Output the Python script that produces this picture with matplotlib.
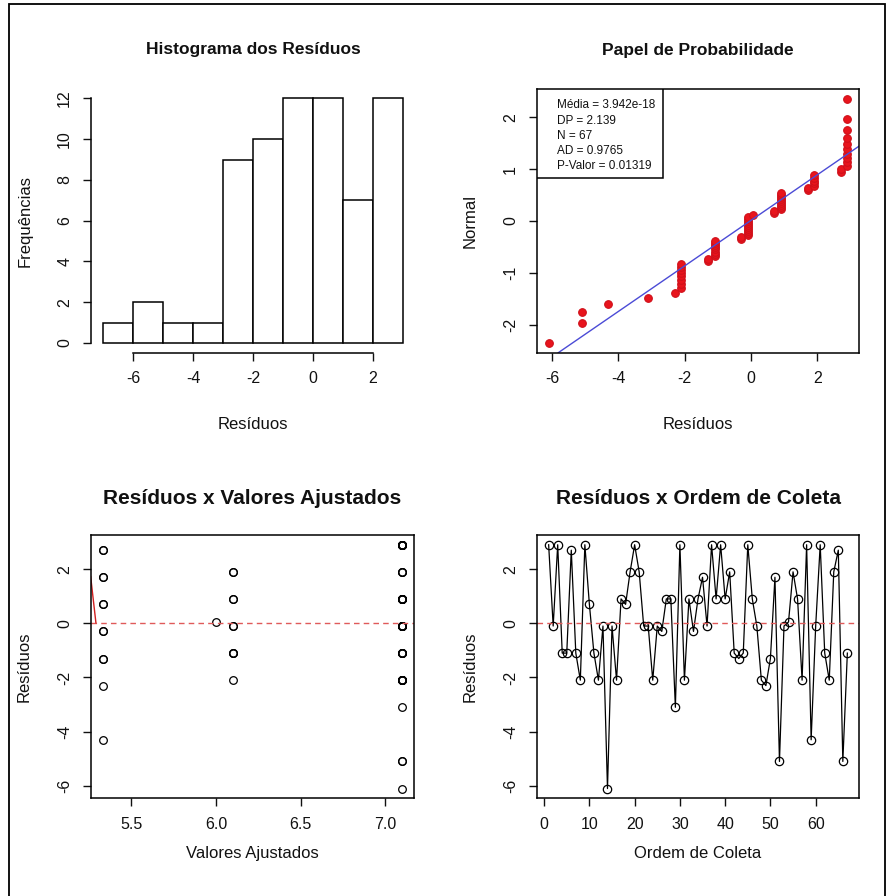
import matplotlib
matplotlib.use("Agg")
import matplotlib.pyplot as plt
from matplotlib import font_manager
from matplotlib.patches import Rectangle
from matplotlib.ticker import FormatStrFormatter
from statistics import NormalDist

# residuos na ordem de coleta
residuos = [2.9, -0.1, 2.9, -1.1, -1.1, 2.7, -1.1, -2.1, 2.9, 0.7,
            -1.1, -2.1, -0.1, -6.1, -0.1, -2.1, 0.9, 0.7, 1.9, 2.9,
            1.9, -0.1, -0.1, -2.1, -0.1, -0.3, 0.9, 0.9, -3.1, 2.9,
            -2.1, 0.9, -0.3, 0.9, 1.7, -0.1, 2.9, 0.9, 2.9, 0.9,
            1.9, -1.1, -1.3, -1.1, 2.9, 0.9, -0.1, -2.1, -2.3, -1.3,
            1.7, -5.1, -0.1, 0.05, 1.9, 0.9, -2.1, 2.9, -4.3, -0.1,
            2.9, -1.1, -2.1, 1.9, 2.7, -5.1, -1.1]

# valores ajustados de cada observacao
ajustados = [7.1, 6.1, 7.1, 6.1, 7.1, 5.33, 6.1, 7.1, 7.1, 5.33,
             7.1, 6.1, 7.1, 7.1, 7.1, 7.1, 6.1, 5.33, 6.1, 7.1,
             7.1, 6.1, 7.1, 7.1, 7.1, 5.33, 7.1, 7.1, 7.1, 7.1,
             7.1, 7.1, 5.33, 7.1, 5.33, 7.1, 7.1, 6.1, 7.1, 7.1,
             6.1, 7.1, 5.33, 6.1, 7.1, 7.1, 7.1, 7.1, 5.33, 5.33,
             5.33, 7.1, 7.1, 6.0, 7.1, 7.1, 7.1, 7.1, 5.33, 7.1,
             7.1, 7.1, 7.1, 7.1, 5.33, 7.1, 7.1]

ordem = list(range(1, len(residuos) + 1))

bins_hist = [-7, -6, -5, -4, -3, -2, -1, 0, 1, 2, 3]

# reta ajustada do papel de probabilidade
reta_intercepto = 0.014
reta_inclinacao = 0.44

# pequeno trecho da curva suavizada (vermelho) no grafico de ajustados
suave_x = [5.259, 5.29]
suave_y = [1.72, 0.02]

estatisticas = ["Média = 3.942e-18", "DP = 2.139", "N = 67",
                "AD = 0.9765", "P-Valor = 0.01319"]

names = {f.name for f in font_manager.fontManager.ttflist}
narrow = "Liberation Sans Narrow" in names

plt.rcParams["font.family"] = ["Liberation Sans", "DejaVu Sans"]
plt.rcParams["axes.unicode_minus"] = False
plt.rcParams["text.color"] = "#111111"
plt.rcParams["axes.labelcolor"] = "#111111"
plt.rcParams["xtick.color"] = "#111111"
plt.rcParams["ytick.color"] = "#111111"

W, H = 887, 896
fig = plt.figure(figsize=(W / 100, H / 100), dpi=100)


def px_axes(l, t, r, b):
    return fig.add_axes([l / W, 1 - b / H, (r - l) / W, (b - t) / H])


def estilo(ax, top_row):
    ax.tick_params(axis="both", direction="out", length=5.5, width=1.0,
                   pad=8, labelsize=11.5)
    ax.tick_params(axis="y", labelrotation=90)
    for lab in ax.get_yticklabels():
        lab.set_va("center")
    for s in ax.spines.values():
        s.set_linewidth(1.1)
    ax.xaxis.labelpad = 22 if top_row else 10
    ax.yaxis.labelpad = 18


def titulo(ax, texto, top_row):
    if top_row:
        if narrow:
            ax.set_title(texto, family="Liberation Sans Narrow",
                         fontweight="bold", fontsize=15, pad=25)
        else:
            ax.set_title(texto, fontweight="bold", fontsize=12.5, pad=25)
    else:
        ax.set_title(texto, fontweight="bold", fontsize=15, pad=22)


# --- Histograma ---
ax1 = px_axes(91, 88.6, 415, 352.7)
ax1.hist(residuos, bins=bins_hist, facecolor="white", edgecolor="black",
         linewidth=1.1)
ax1.set_xlim(-7.4, 3.4)
ax1.set_ylim(-0.48, 12.48)
ax1.set_xticks([-6, -4, -2, 0, 2])
ax1.set_yticks([0, 2, 4, 6, 8, 10, 12])
ax1.spines["top"].set_visible(False)
ax1.spines["right"].set_visible(False)
ax1.spines["left"].set_bounds(0, 12)
ax1.spines["bottom"].set_bounds(-6, 2)
ax1.set_xlabel("Resíduos", fontsize=12)
ax1.set_ylabel("Frequências", fontsize=12)
titulo(ax1, "Histograma dos Resíduos", True)
estilo(ax1, True)

# --- Papel de probabilidade ---
ax2 = px_axes(536.7, 89.3, 859.3, 352.7)
n = len(residuos)
ordenados = sorted(residuos)
quantis = [NormalDist().inv_cdf((i + 1 - 0.375) / (n + 0.25)) for i in range(n)]
ax2.plot(ordenados, quantis, "o", color="#e8141c", markersize=5.5,
         markeredgecolor="#d0101a", markeredgewidth=0.8)
ax2.margins(0.04)
ax2.axline((0, reta_intercepto), slope=reta_inclinacao, color="#4b4bd6",
           linewidth=1.0)
ax2.set_xticks([-6, -4, -2, 0, 2])
ax2.set_yticks([-2, -1, 0, 1, 2])
ax2.set_xlabel("Resíduos", fontsize=12)
ax2.set_ylabel("Normal", fontsize=12)
titulo(ax2, "Papel de Probabilidade", True)
estilo(ax2, True)
ax2.add_patch(Rectangle((0, 1 - 0.338), 0.39, 0.338, transform=ax2.transAxes,
                        facecolor="white", edgecolor="black", linewidth=1.1,
                        zorder=5))
ys = [105, 121, 136, 150.7, 165.7]
for txt, yp in zip(estatisticas, ys):
    if narrow:
        ax2.text(0.063, 1 - (yp - 89.3) / 263.4, txt, transform=ax2.transAxes,
                 family="Liberation Sans Narrow", fontsize=10, va="center",
                 ha="left", zorder=6)
    else:
        ax2.text(0.063, 1 - (yp - 89.3) / 263.4, txt, transform=ax2.transAxes,
                 fontsize=8.5, va="center", ha="left", zorder=6)

# --- Residuos x Valores Ajustados ---
ax3 = px_axes(90.7, 535, 414.3, 798.3)
ax3.plot(ajustados, residuos, "o", markerfacecolor="none",
         markeredgecolor="black", markersize=5.5, markeredgewidth=0.9)
ax3.margins(0.04)
ax3.set_xlim(ax3.get_xlim())
ax3.set_ylim(ax3.get_ylim())
ax3.axhline(0, color="#e05a5a", linestyle=(0, (4, 3)), linewidth=1.0)
ax3.plot(suave_x, suave_y, color="#d02020", linewidth=1.0)
ax3.set_xticks([5.5, 6.0, 6.5, 7.0])
ax3.xaxis.set_major_formatter(FormatStrFormatter("%.1f"))
ax3.set_yticks([-6, -4, -2, 0, 2])
ax3.set_xlabel("Valores Ajustados", fontsize=12)
ax3.set_ylabel("Resíduos", fontsize=12)
titulo(ax3, "Resíduos x Valores Ajustados", False)
estilo(ax3, False)

# --- Residuos x Ordem de Coleta ---
ax4 = px_axes(536.7, 535, 859.3, 798.3)
ax4.plot(ordem, residuos, "-o", color="black", linewidth=0.9,
         markerfacecolor="none", markersize=6, markeredgewidth=0.9)
ax4.margins(0.04)
ax4.axhline(0, color="#e05a5a", linestyle=(0, (4, 3)), linewidth=1.0)
ax4.set_xticks([0, 10, 20, 30, 40, 50, 60])
ax4.set_yticks([-6, -4, -2, 0, 2])
ax4.set_xlabel("Ordem de Coleta", fontsize=12)
ax4.set_ylabel("Resíduos", fontsize=12)
titulo(ax4, "Resíduos x Ordem de Coleta", False)
estilo(ax4, False)

# moldura externa
fig.patches.append(Rectangle((9 / W, -0.02), (885 - 9) / W, 1.02 - 4.5 / H,
                             transform=fig.transFigure, fill=False,
                             edgecolor="black", linewidth=1.3))

fig.savefig("out.png", dpi=100)
